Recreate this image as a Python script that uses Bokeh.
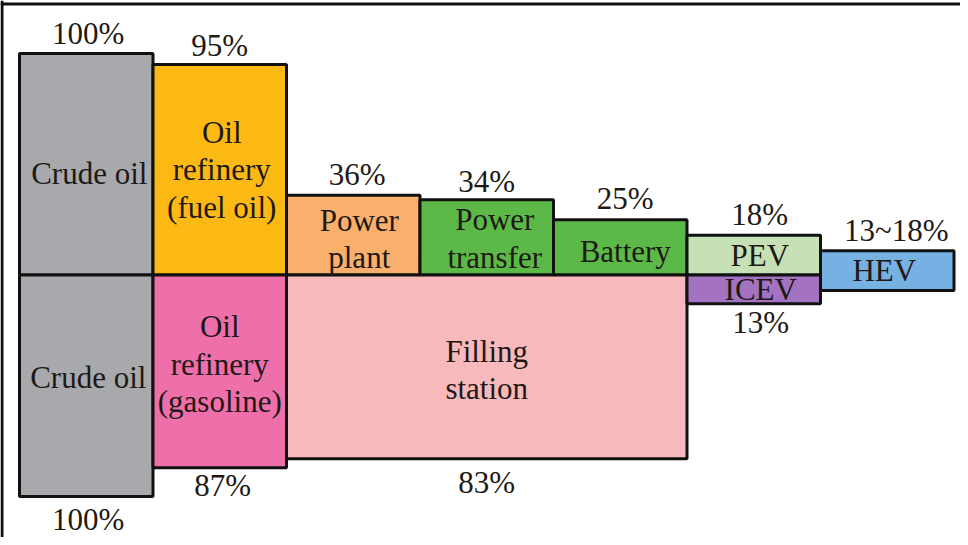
from bokeh.plotting import figure
from bokeh.models import ColumnDataSource, Range1d, Span
from bokeh.core.properties import value
from bokeh.embed import file_html
from bokeh.resources import INLINE

# ---- data ----
top_names = ["Crude oil", "Oil\nrefinery\n(fuel oil)", "Power\nplant", "Power\ntransfer", "Battery", "PEV"]
top_start = [0, 1, 2, 3, 4, 5]
top_end = [1, 2, 3, 4, 5, 6]
top_values = [100, 95, 36, 34, 25, 18]
top_labels = ["100%", "95%", "36%", "34%", "25%", "18%"]

bot_names = ["Crude oil", "Oil\nrefinery\n(gasoline)", "Filling\nstation", "ICEV"]
bot_start = [0, 1, 2, 5]
bot_end = [1, 2, 5, 6]
bot_values = [100, 87, 83, 13]
bot_labels = ["100%", "87%", "83%", "13%"]

hev_name = ["HEV"]
hev_start = [6]
hev_end = [7]
hev_upper = [11]
hev_lower = [7]
hev_label = ["13~18%"]

# ---- styles (colours and small pixel nudges of the texts) ----
top_colors = ["#A7A9AC", "#FDB913", "#F9B06D", "#5CB947", "#5CB947", "#C6E1B5"]
bot_colors = ["#A7A9AC", "#EE6FA9", "#F8B9BD", "#A373C1"]
hev_colors = ["#76B1E3"]
top_name_dx = [3, 2, 6, 8, 5, 6]
top_name_dy = [9, 0, 4, 1, 4, 0]
top_lab_dx = [2, 0, 4, 0, 5, 6]
top_lab_dy = [-20, -19, -21, -18, -21, -21]
bot_name_dx = [2, 0, 0, 7]
bot_name_dy = [-8, -7, 3, 0]
bot_lab_dx = [2, 3, 0, 7]
bot_lab_dy = [23, 18, 24, 19]
hev_name_dx = [-3]
hev_name_dy = [0]
hev_lab_dx = [9]
hev_lab_dy = [-20]

FONT = value("Times New Roman")
TXT = "#1e1915"
FS = "31px"
LINE_H = 37.5

W, H = 960, 537
px_x = 133.5
px_y = 2.215
x0 = -19 / px_x
y_top = 274.5 / px_y

p = figure(width=W, height=H, output_backend="svg", toolbar_location=None,
           x_range=Range1d(x0, x0 + W / px_x),
           y_range=Range1d(y_top - H / px_y, y_top),
           min_border=0)
p.axis.visible = False
p.grid.visible = False
p.outline_line_color = None
p.background_fill_color = "white"
p.border_fill_color = "white"

def mids(a, b):
    return [(s + e) / 2 for s, e in zip(a, b)]

boxes = [
    (top_start, top_end, top_values, [0] * len(top_values), top_colors, top_names, top_labels,
     top_name_dx, top_name_dy, top_lab_dx, top_lab_dy, "up"),
    (bot_start, bot_end, [0] * len(bot_values), [-v for v in bot_values], bot_colors, bot_names, bot_labels,
     bot_name_dx, bot_name_dy, bot_lab_dx, bot_lab_dy, "down"),
    (hev_start, hev_end, hev_upper, [-v for v in hev_lower], hev_colors, hev_name, hev_label,
     hev_name_dx, hev_name_dy, hev_lab_dx, hev_lab_dy, "up"),
]

for left, right, top, bottom, colors, *_ in boxes:
    src = ColumnDataSource(dict(left=left, right=right, top=top, bottom=bottom, color=colors))
    p.quad(left="left", right="right", top="top", bottom="bottom", source=src,
           fill_color="color", line_color="#111111", line_width=3)

for left, right, top, bottom, colors, names, labels, ndx, ndy, ldx, ldy, side in boxes:
    xs, ys, txt, xo, yo = [], [], [], [], []
    cx = mids(left, right)
    cy = [(t + b) / 2 for t, b in zip(top, bottom)]
    for x, y, name, dx, dy in zip(cx, cy, names, ndx, ndy):
        lines = name.split("\n")
        n = len(lines)
        for j, line in enumerate(lines):
            xs.append(x); ys.append(y); txt.append(line)
            xo.append(dx)
            yo.append(dy + (j - (n - 1) / 2) * LINE_H)
    p.text(x=xs, y=ys, text=txt, x_offset=xo, y_offset=yo,
           text_font=FONT, text_font_size=FS, text_color=TXT,
           text_align="center", text_baseline="middle")
    # percentage labels
    edge = top if side == "up" else bottom
    p.text(x=cx, y=edge, text=labels, x_offset=ldx, y_offset=ldy,
           text_font=FONT, text_font_size=FS, text_color=TXT,
           text_align="center", text_baseline="middle")

# outer frame (top and left edges visible in the window)
p.add_layout(Span(location=y_top - 3.5 / px_y, dimension="width", line_color="#111111", line_width=3))
p.add_layout(Span(location=x0 + 1.5 / px_x, dimension="height", line_color="#111111", line_width=3))

open("out.html", "w").write(file_html(p, INLINE))
